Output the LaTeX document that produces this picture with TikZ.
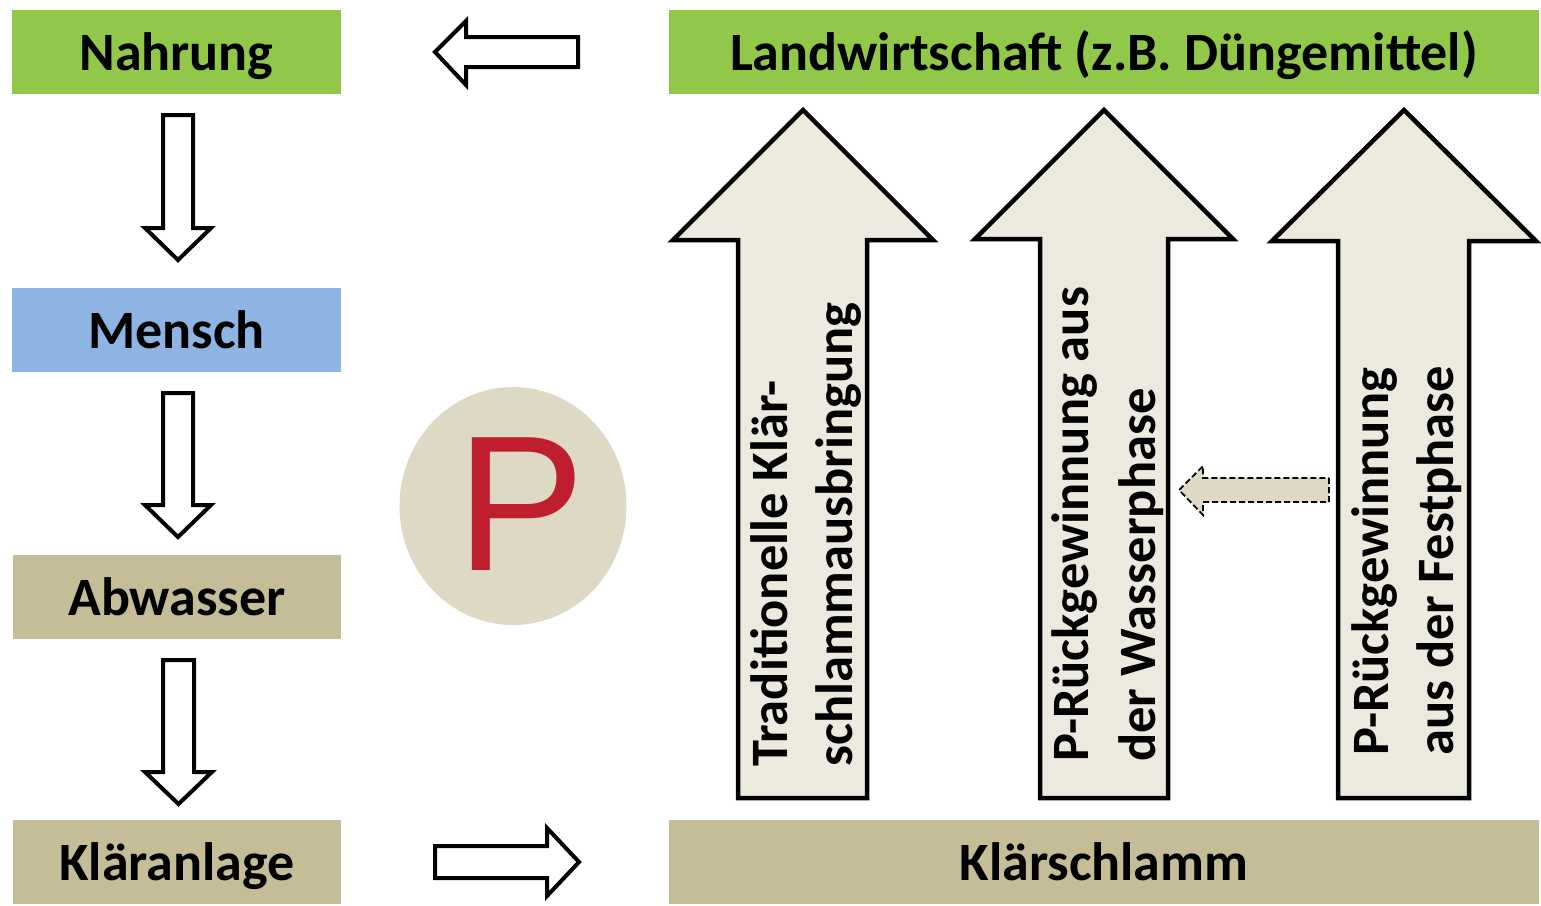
\documentclass[tikz,border=0pt]{standalone}
\usepackage{fontspec}
\usetikzlibrary{shapes.geometric}
\setmainfont{Carlito}
\newfontfamily\pfont{Liberation Sans}
\definecolor{cgreen}{RGB}{146,200,74}
\definecolor{cblue}{RGB}{141,180,226}
\definecolor{ctan}{RGB}{196,189,151}
\definecolor{carrow}{RGB}{236,234,222}
\definecolor{ccircle}{RGB}{221,217,196}
\definecolor{cred}{RGB}{190,30,45}
\begin{document}
\begin{tikzpicture}[x=1pt,y=-1pt,
  box/.style={rectangle, inner sep=0pt, minimum height=84pt, text height=36pt, text depth=0pt,
    font=\fontsize{54}{64}\selectfont\bfseries},
  blockarrow/.style={draw=black, line width=4pt, fill=white, line join=miter},
  bigarrow/.style={draw=black, line width=4.5pt, fill=carrow, line join=miter},
  dasharrow/.style={draw=black, line width=1.8pt, dash pattern=on 6pt off 3pt, fill=ccircle},
  rottext/.style={rotate=90, anchor=base west, inner sep=0pt, font=\fontsize{52.5}{60}\selectfont\bfseries}]
\useasboundingbox (0,0) rectangle (1541,905);

% left column boxes
\node[box, fill=cgreen, minimum width=329pt] (nahrung) at (176.5,52) {Nahrung};
\node[box, fill=cblue, minimum width=329pt] (mensch) at (176.5,330) {Mensch};
\node[box, fill=ctan, minimum width=328pt] (abwasser) at (177,597) {Abwasser};
\node[box, fill=ctan, minimum width=328pt] (klaeranlage) at (177,862) {Kläranlage};

% right boxes
\node[box, fill=cgreen, minimum width=870pt] (landwirt) at (1104,52) {Landwirtschaft (z.B. Düngemittel)};
\node[box, fill=ctan, minimum width=870pt] (klaerschlamm) at (1104,862) {Klärschlamm};

% P circle
\node[ellipse, fill=ccircle, minimum width=227pt, minimum height=238pt, inner sep=0pt] (pcirc) at (513,506) {};
\node[text=cred, font=\pfont\fontsize{193}{200}\selectfont, inner sep=0pt, anchor=base] (pletter) at (521,570) {P};

% down arrows in left column
\draw[blockarrow] (163,115) -- (193,115) -- (193,228) -- (211,228) -- (178,260) -- (145,228) -- (163,228) -- cycle;
\draw[blockarrow] (163,393) -- (193,393) -- (193,505) -- (211,505) -- (178,537) -- (145,505) -- (163,505) -- cycle;
\draw[blockarrow] (163,660) -- (194,660) -- (194,772) -- (212,772) -- (178.5,804) -- (145,772) -- (163,772) -- cycle;

% horizontal arrows
\draw[blockarrow] (578,37) -- (578,67) -- (466,67) -- (466,85) -- (435,52) -- (466,21) -- (466,37) -- cycle;
\draw[blockarrow] (435,846) -- (547,846) -- (547,828) -- (579,862) -- (547,896) -- (547,878) -- (435,878) -- cycle;

% big up arrows
\draw[bigarrow] (738,798) -- (738,240) -- (673,240) -- (803,110) -- (933,240) -- (867,240) -- (867,798) -- cycle;
\draw[bigarrow] (1040,798) -- (1040,239) -- (975,239) -- (1104,110) -- (1233,239) -- (1168,239) -- (1168,798) -- cycle;
\draw[bigarrow] (1338,798) -- (1338,241) -- (1272,241) -- (1404,110) -- (1536,241) -- (1469,241) -- (1469,798) -- cycle;

% dashed arrow
\draw[dasharrow] (1329,478) -- (1329,502) -- (1203,502) -- (1203,515) -- (1179,490) -- (1203,466) -- (1203,478) -- cycle;

% texts in big arrows
\node[rottext] (t1a) at (787,767) {Traditionelle Klär-};
\node[rottext] (t1b) at (852,767) {schlammausbringung};
\node[rottext] (t2a) at (1088,762) {P-Rückgewinnung aus};
\node[rottext] (t2b) at (1155,762) {der Wasserphase};
\node[rottext] (t3a) at (1388,756) {P-Rückgewinnung};
\node[rottext] (t3b) at (1453,756) {aus der Festphase};
\end{tikzpicture}
\end{document}
